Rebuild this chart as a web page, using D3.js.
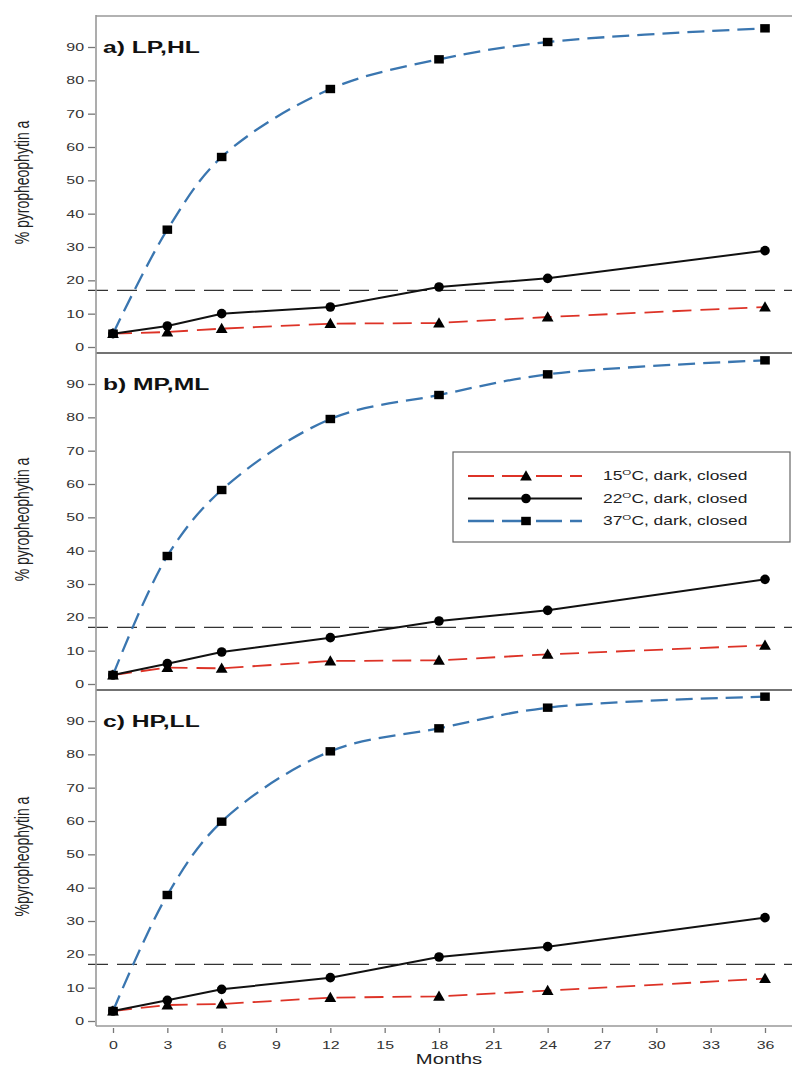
<!DOCTYPE html>
<html>
<head>
<meta charset="utf-8">
<script src="https://cdn.jsdelivr.net/npm/d3@7"></script>
<style>
  body { margin: 0; background: #fff; }
  svg { display: block; font-family: "Liberation Sans", Arial, sans-serif; }
</style>
</head>
<body>
<script>
const months = [0, 3, 6, 12, 18, 24, 36]
const panelLabels = ['a) LP,HL', 'b) MP,ML', 'c) HP,LL']
const yTitles = ['% pyropheophytin a', '% pyropheophytin a', '%pyropheophytin a']
const xTicks = [0, 3, 6, 9, 12, 15, 18, 21, 24, 27, 30, 33, 36]
const yTicks = [0, 10, 20, 30, 40, 50, 60, 70, 80, 90]
const threshold = 17

// one row per panel (a, b, c)
const dark15 = [
    [4, 4.5, 5.5, 7, 7.2, 9, 12],
    [2.7, 4.9, 4.7, 6.9, 7.1, 8.9, 11.6],
    [3, 4.8, 5.1, 7, 7.4, 9.1, 12.7]
]
const dark22 = [
    [4, 6.3, 10, 12, 18, 20.6, 28.9],
    [2.7, 6.1, 9.6, 13.9, 18.9, 22.1, 31.4],
    [3, 6.2, 9.5, 13, 19.2, 22.3, 31]
]
const dark37 = [
    [4, 35.2, 57, 77.4, 86.3, 91.5, 95.6],
    [2.7, 38.4, 58.2, 79.5, 86.7, 92.9, 97.1],
    [3, 37.8, 59.8, 80.9, 87.8, 94, 97.3]
]
const seriesNames = ['15', '22', '37']

const width = 792, height = 1068
const SX = 1.45   // the source figure is stretched sideways
const left = 96, right = 792
const panelTops = [16, 353, 690]
const panelH = 337
const bottom = 1026

const series = [
    {name: seriesNames[0], data: dark15, color: '#dd3327', dash: '19,9', width: 1.8, marker: 'triangle', curve: d3.curveLinear},
    {name: seriesNames[1], data: dark22, color: '#111', dash: null, width: 2, marker: 'circle', curve: d3.curveLinear},
    {name: seriesNames[2], data: dark37, color: '#3a76b0', dash: '17,8', width: 2.3, marker: 'square', curve: d3.curveCatmullRom.alpha(0.5)}
]

const svg = d3.select('body').append('svg').attr('width', width).attr('height', height)
svg.append('rect').attr('width', width).attr('height', height).attr('fill', '#fff')

const x = d3.scaleLinear().domain([0, 36]).range([113, 765])

function drawMarker(g, type, cx, cy) {
    if (type === 'circle') {
        g.append('circle').attr('cx', cx).attr('cy', cy).attr('r', 4.8).attr('fill', '#000')
    } else if (type === 'square') {
        g.append('rect').attr('x', cx - 4.8).attr('y', cy - 4.2).attr('width', 9.6).attr('height', 8.4).attr('fill', '#000')
    } else {
        g.append('path').attr('d', d3.symbol(d3.symbolTriangle, 60)()).attr('transform', `translate(${cx},${cy + 1})`).attr('fill', '#000')
    }
}

panelTops.forEach((top, p) => {
    const y = d3.scaleLinear().domain([0, 90]).range([top + 331, top + 31])
    const g = svg.append('g')

    // threshold
    g.append('line')
        .attr('x1', 88).attr('x2', right)
        .attr('y1', y(threshold)).attr('y2', y(threshold))
        .attr('stroke', '#333').attr('stroke-width', 1.1).attr('stroke-dasharray', '20,9')

    series.forEach(s => {
        const vals = s.data[p]
        const line = d3.line()
            .x((d, i) => x(months[i]))
            .y(d => y(d))
            .curve(s.curve)
        g.append('path').datum(vals)
            .attr('d', line)
            .attr('fill', 'none')
            .attr('stroke', s.color)
            .attr('stroke-width', s.width)
            .attr('stroke-dasharray', s.dash)
        vals.forEach((v, i) => drawMarker(g, s.marker, x(months[i]), y(v)))
    })

    const axis = g.append('g')
        .attr('transform', `translate(${left - 1},0)`)
        .call(d3.axisLeft(y).tickValues(yTicks).tickSize(7).tickPadding(0))
    axis.select('.domain').remove()
    axis.selectAll('.tick line').attr('stroke', '#777').attr('stroke-width', 1.3)
    axis.selectAll('.tick text')
        .attr('x', -11 / SX)
        .attr('transform', `scale(${SX},1)`)
        .attr('font-size', 11)
        .attr('fill', '#333')

    g.append('text')
        .attr('transform', `translate(103,${y(90) + 6}) scale(${SX},1)`)
        .attr('font-size', 17).attr('font-weight', 'bold').attr('fill', '#111')
        .text(panelLabels[p])

    g.append('text')
        .attr('transform', `translate(29,${top + panelH / 2 - 2}) scale(${SX},1) rotate(-90)`)
        .attr('text-anchor', 'middle')
        .attr('font-size', 14).attr('fill', '#222')
        .text(yTitles[p])
})

// frame
svg.append('line').attr('x1', left).attr('x2', right).attr('y1', 16).attr('y2', 16)
    .attr('stroke', '#999').attr('stroke-width', 1.6)
;[353, 690].forEach(v => svg.append('line').attr('x1', left).attr('x2', right).attr('y1', v).attr('y2', v)
    .attr('stroke', '#444').attr('stroke-width', 1.3))
svg.append('line').attr('x1', left).attr('x2', right).attr('y1', bottom).attr('y2', bottom)
    .attr('stroke', '#999').attr('stroke-width', 1.6)
svg.append('line').attr('x1', left).attr('x2', left).attr('y1', 15).attr('y2', bottom)
    .attr('stroke', '#999').attr('stroke-width', 1.6)

const xAxis = svg.append('g')
    .attr('transform', `translate(0,${bottom + 2})`)
    .call(d3.axisBottom(x).tickValues(xTicks).tickSize(5).tickPadding(8))
xAxis.select('.domain').remove()
xAxis.selectAll('.tick line').attr('stroke', '#777').attr('stroke-width', 1.3)
xAxis.selectAll('.tick text')
    .attr('transform', `scale(${SX},1)`)
    .attr('font-size', 11)
    .attr('fill', '#333')

svg.append('text')
    .attr('transform', `translate(449,1064) scale(${SX},1)`)
    .attr('text-anchor', 'middle')
    .attr('font-size', 14).attr('fill', '#222')
    .text('Months')

// legend
const lg = svg.append('g')
lg.append('rect').attr('x', 453).attr('y', 452).attr('width', 337).attr('height', 90)
    .attr('fill', '#fff').attr('stroke', '#666').attr('stroke-width', 1.2)
series.forEach((s, i) => {
    const ly = 476 + i * 22.5
    lg.append('line').attr('x1', 468).attr('x2', 582).attr('y1', ly).attr('y2', ly)
        .attr('stroke', s.color).attr('stroke-width', s.width)
        .attr('stroke-dasharray', s.dash ? '26,8' : null)
    drawMarker(lg, s.marker, 526, ly)
    const t = lg.append('text')
        .attr('transform', `translate(603,${ly + 4}) scale(${SX},1)`)
        .attr('font-size', 12).attr('fill', '#222')
    t.append('tspan').text(s.name)
    t.append('tspan').attr('font-size', 8).attr('dy', -5).text('O')
    t.append('tspan').attr('dy', 5).text('C, dark, closed')
})
</script>
</body>
</html>
